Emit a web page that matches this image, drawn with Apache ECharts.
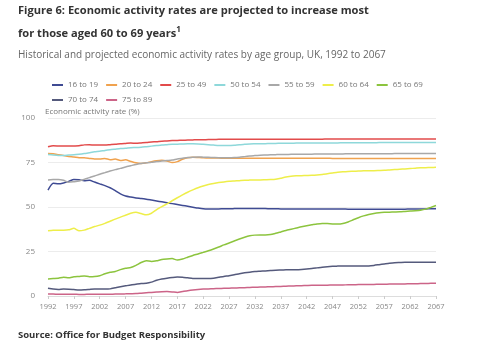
<!DOCTYPE html>
<html>
<head>
<meta charset="utf-8">
<script src="https://cdn.jsdelivr.net/npm/echarts@6/dist/echarts.min.js"></script>
<style>
  html, body { margin: 0; padding: 0; background: #fff; }
  #chart { width: 500px; height: 348px; }
</style>
</head>
<body>
<div id="chart"></div>
<script>
// Years on the x axis (historical 1992-2017, projected to 2067)
const years = [];
for (let y = 1992; y <= 2067; y++) years.push(String(y));

const yTicks = [0, 25, 50, 75, 100];

// Economic activity rate (%) by age group, one value per year
const age16to19 = [
  59.5, 63.3, 63.0, 63.5, 64.4,  65.5, 65.3, 64.8, 65.0, 64.0,
  63.0, 62.0, 60.8, 59.2, 57.4,  56.2, 55.6, 55.1, 54.8, 54.4,
  53.9, 53.4, 52.9, 52.4, 51.9,  51.4, 50.9, 50.4, 49.9, 49.4,
  49.0, 48.9, 48.9, 48.9, 49.0,  49.0, 49.1, 49.2, 49.2, 49.2,
  49.2, 49.1, 49.1, 49.0, 49.0,  48.9, 48.9, 48.9, 48.9, 48.9,
  48.9, 48.9, 48.9, 48.9, 48.9,  48.9, 48.9, 48.9, 48.8, 48.8,
  48.8, 48.8, 48.8, 48.8, 48.8,  48.8, 48.8, 48.8, 48.8, 48.8,
  48.9, 48.9, 48.9, 48.9, 49.0,  49.0
];
const age20to24 = [
  80.0, 79.9, 79.4, 78.9, 78.4,  78.1, 77.7, 77.6, 77.3, 77.0,
  76.9, 77.3, 76.6, 76.9, 76.1,  76.5, 75.6, 74.8, 74.5, 74.8,
  75.5, 76.0, 76.2, 75.8, 75.0,  75.5, 76.8, 77.7, 78.0, 77.8,
  77.6, 77.5, 77.5, 77.5, 77.4,  77.4, 77.4, 77.4, 77.4, 77.4,
  77.4, 77.4, 77.4, 77.4, 77.4,  77.4, 77.4, 77.4, 77.4, 77.4,
  77.4, 77.4, 77.4, 77.4, 77.4,  77.3, 77.3, 77.3, 77.3, 77.3,
  77.3, 77.3, 77.3, 77.3, 77.3,  77.3, 77.3, 77.3, 77.3, 77.3,
  77.3, 77.3, 77.3, 77.3, 77.3,  77.3
];
const age25to49 = [
  83.8, 84.4, 84.3, 84.2, 84.2,  84.3, 84.4, 84.9, 85.0, 84.8,
  84.8, 84.8, 85.0, 85.2, 85.5,  85.7, 85.9, 85.8, 86.0, 86.2,
  86.5, 86.7, 87.0, 87.1, 87.3,  87.4, 87.5, 87.6, 87.7, 87.8,
  87.8, 87.9, 87.9, 88.0, 88.0,  88.0, 88.0, 88.0, 88.1, 88.1,
  88.1, 88.1, 88.1, 88.1, 88.1,  88.1, 88.1, 88.1, 88.1, 88.1,
  88.1, 88.1, 88.1, 88.1, 88.2,  88.2, 88.2, 88.2, 88.2, 88.2,
  88.2, 88.2, 88.2, 88.2, 88.2,  88.2, 88.2, 88.2, 88.2, 88.2,
  88.2, 88.2, 88.2, 88.2, 88.2,  88.2
];
const age50to54 = [
  79.5, 79.2, 79.0, 79.0, 79.2,  79.3, 79.6, 80.0, 80.5, 81.0,
  81.3, 81.8, 82.2, 82.5, 82.8,  83.0, 83.3, 83.4, 83.6, 83.9,
  84.2, 84.5, 84.8, 85.0, 85.2,  85.3, 85.4, 85.5, 85.5, 85.4,
  85.2, 85.0, 84.8, 84.6, 84.5,  84.5, 84.7, 85.0, 85.2, 85.4,
  85.5, 85.6, 85.6, 85.7, 85.7,  85.8, 85.8, 85.8, 85.9, 85.9,
  85.9, 85.9, 86.0, 86.0, 86.0,  86.0, 86.0, 86.1, 86.1, 86.1,
  86.1, 86.1, 86.1, 86.1, 86.2,  86.2, 86.2, 86.2, 86.2, 86.2,
  86.2, 86.2, 86.2, 86.2, 86.2,  86.2
];
const age55to59 = [
  65.2, 65.4, 65.5, 65.0, 63.9,  64.2, 64.6, 65.5, 66.5, 67.4,
  68.4, 69.3, 70.2, 71.0, 71.7,  72.5, 73.2, 73.9, 74.5, 74.8,
  75.1, 75.5, 75.8, 76.1, 76.4,  77.0, 77.4, 77.8, 78.0, 78.1,
  78.0, 77.9, 77.8, 77.7, 77.7,  77.7, 77.8, 78.0, 78.3, 78.6,
  78.9, 79.1, 79.2, 79.3, 79.4,  79.5, 79.5, 79.6, 79.6, 79.7,
  79.7, 79.7, 79.8, 79.8, 79.8,  79.8, 79.8, 79.8, 79.9, 79.9,
  79.9, 79.9, 79.9, 79.9, 79.9,  79.9, 79.9, 80.0, 80.0, 80.0,
  80.0, 80.0, 80.0, 80.0, 80.0,  80.0
];
const age60to64 = [
  36.6, 36.9, 37.0, 37.0, 37.2,  38.0, 36.6, 37.0, 38.0, 39.0,
  39.8, 40.8, 42.0, 43.2, 44.3,  45.4, 46.5, 47.0, 46.3, 45.6,
  46.5, 48.5, 50.2, 51.8, 53.5,  55.2, 56.8, 58.3, 59.6, 60.8,
  61.8, 62.6, 63.2, 63.7, 64.1,  64.4, 64.6, 64.8, 65.0, 65.1,
  65.2, 65.2, 65.3, 65.4, 65.6,  66.2, 66.8, 67.3, 67.5, 67.6,
  67.7, 67.8, 68.0, 68.3, 68.7,  69.1, 69.5, 69.8, 70.0, 70.1,
  70.2, 70.3, 70.4, 70.4, 70.5,  70.6, 70.8, 71.0, 71.2, 71.4,
  71.6, 71.8, 72.0, 72.1, 72.2,  72.3
];
const age65to69 = [
   9.6,  9.8, 10.0, 10.6, 10.2,  10.8, 11.0, 11.3, 10.8, 10.9,
  11.4, 12.5, 13.3, 13.8, 14.8,  15.6, 16.0, 17.2, 18.8, 19.8,
  19.4, 19.8, 20.5, 20.8, 21.0,  20.2, 20.8, 21.8, 22.8, 23.6,
  24.5, 25.4, 26.4, 27.5, 28.7,  29.8, 30.9, 32.0, 33.0, 33.8,
  34.2, 34.3, 34.3, 34.5, 35.2,  36.0, 36.8, 37.5, 38.2, 38.9,
  39.5, 40.0, 40.5, 40.8, 40.7,  40.5, 40.4, 40.7, 41.6, 42.8,
  44.0, 45.0, 45.8, 46.4, 46.8,  47.0, 47.1, 47.2, 47.3, 47.5,
  47.7, 47.9, 48.2, 48.8, 49.8,  50.8
];
const age70to74 = [
   4.4,  3.9,  3.7,  3.9,  3.8,   3.6,  3.4,  3.5,  3.7,  3.9,
   3.9,  3.9,  4.0,  4.6,  5.2,   5.7,  6.2,  6.6,  7.0,  7.2,
   7.8,  8.8,  9.5, 10.0, 10.4,  10.7, 10.5, 10.2,  9.9,  9.8,
   9.8,  9.8, 10.0, 10.5, 11.0,  11.4, 11.9, 12.5, 13.0, 13.4,
  13.7, 13.9, 14.1, 14.3, 14.5,  14.6, 14.7, 14.8, 14.8, 14.9,
  15.1, 15.4, 15.8, 16.2, 16.5,  16.7, 16.8, 16.9, 16.9, 16.9,
  16.9, 16.8, 16.9, 17.2, 17.6,  18.0, 18.4, 18.7, 18.8, 18.9,
  18.9, 18.9, 19.0, 19.0, 19.0,  19.0
];
const age75to89 = [
   1.1,  1.1,  1.0,  1.0,  1.0,   1.0,  0.9,  0.9,  1.0,  1.0,
   1.0,  1.0,  1.0,  1.1,  1.1,   1.2,  1.3,  1.4,  1.6,  1.8,
   2.0,  2.2,  2.4,  2.5,  2.3,   2.0,  2.5,  3.0,  3.4,  3.7,
   3.9,  4.0,  4.1,  4.2,  4.3,   4.4,  4.5,  4.6,  4.7,  4.8,
   4.9,  5.0,  5.1,  5.2,  5.3,   5.4,  5.5,  5.6,  5.7,  5.8,
   5.9,  6.0,  6.0,  6.1,  6.1,   6.2,  6.2,  6.2,  6.3,  6.3,
   6.4,  6.4,  6.5,  6.5,  6.6,   6.6,  6.7,  6.7,  6.8,  6.8,
   6.9,  6.9,  7.0,  7.0,  7.1,   7.1
];

const seriesNames = ['16 to 19', '20 to 24', '25 to 49', '50 to 54', '55 to 59',
                     '60 to 64', '65 to 69', '70 to 74', '75 to 89'];
const seriesValues = [age16to19, age20to24, age25to49, age50to54, age55to59,
                      age60to64, age65to69, age70to74, age75to89];
const seriesColors = ['#3f4b93', '#f0a24e', '#e24b4b', '#8ed8da', '#a8a8a8',
                      '#eeee4a', '#8cc43e', '#555a7c', '#cc6488'];

const FONT = '"Open Sans", "DejaVu Sans", sans-serif';

const chart = echarts.init(document.getElementById('chart'), null, { renderer: 'canvas' });

const legendCommon = {
  orient: 'horizontal',
  icon: 'rect',
  itemWidth: 11,
  itemHeight: 2,
  itemGap: 8,
  textStyle: { fontFamily: FONT, fontSize: 8, color: '#777', width: 31 },
  selectedMode: false
};

chart.setOption({
  backgroundColor: '#ffffff',
  animation: false,
  color: seriesColors,
  graphic: [
    {
      type: 'text', left: 18, top: 5,
      style: {
        text: 'Figure 6: Economic activity rates are projected to increase most',
        font: 'bold 11.1px ' + FONT, fill: '#333333'
      }
    },
    {
      type: 'text', left: 18, top: 26,
      style: {
        text: '{t|for those aged 60 to 69 years}{s|1}',
        rich: {
          t: { font: 'bold 11.1px ' + FONT, fill: '#333333', verticalAlign: 'bottom' },
          s: { font: 'bold 8px ' + FONT, fill: '#333333', verticalAlign: 'top', padding: [0, 0, 5, 0] }
        }
      }
    },
    {
      type: 'text', left: 18, top: 50,
      style: {
        text: 'Historical and projected economic activity rates by age group, UK, 1992 to 2067',
        font: '10px ' + FONT, fill: '#666666'
      }
    },
    {
      type: 'text', left: 45, top: 108,
      style: {
        text: 'Economic activity rate (%)',
        font: '8px ' + FONT, fill: '#777777'
      }
    },
    {
      type: 'text', left: 18, top: 330,
      style: {
        text: 'Source: Office for Budget Responsibility',
        font: 'bold 9.5px ' + FONT, fill: '#333333'
      }
    }
  ],
  legend: [
    Object.assign({ left: 47, top: 76, data: seriesNames.slice(0, 7) }, legendCommon),
    Object.assign({ left: 47, top: 91, data: seriesNames.slice(7) }, legendCommon)
  ],
  grid: { left: 48, right: 64, top: 118, bottom: 52, containLabel: false },
  xAxis: {
    type: 'category',
    data: years,
    boundaryGap: false,
    axisLine: { show: true, lineStyle: { color: '#dddddd', width: 1 } },
    axisTick: { show: true, interval: 4, length: 3, lineStyle: { color: '#cccccc' } },
    axisLabel: { interval: 4, fontFamily: FONT, fontSize: 7.5, color: '#888888', margin: 7 },
    splitLine: { show: false }
  },
  yAxis: {
    type: 'value',
    min: yTicks[0],
    max: yTicks[yTicks.length - 1],
    interval: 25,
    axisLine: { show: false },
    axisTick: { show: false },
    axisLabel: { fontFamily: FONT, fontSize: 8, color: '#888888', margin: 13 },
    splitLine: { show: true, lineStyle: { color: '#ececec', width: 1 } }
  },
  series: seriesNames.map((name, i) => ({
    name: name,
    type: 'line',
    data: seriesValues[i],
    showSymbol: false,
    symbol: 'none',
    smooth: 0.2,
    lineStyle: { width: 1.5, color: seriesColors[i] },
    itemStyle: { color: seriesColors[i] },
    z: 2
  }))
});
</script>
</body>
</html>
